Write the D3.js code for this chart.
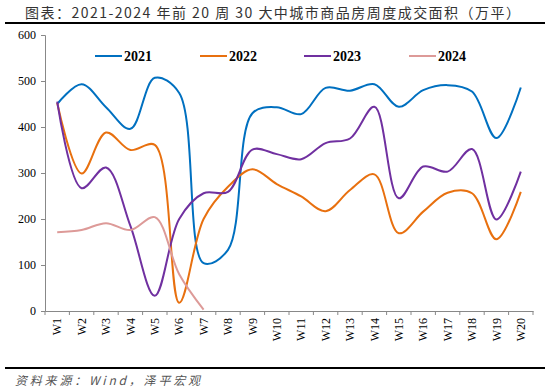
<!DOCTYPE html>
<html><head><meta charset="utf-8">
<script src="https://cdn.jsdelivr.net/npm/d3@7"></script>
<style>body{margin:0;background:#fff}svg{display:block}</style>
</head><body>
<script>
const weeks = ["W1","W2","W3","W4","W5","W6","W7","W8","W9","W10","W11","W12","W13","W14","W15","W16","W17","W18","W19","W20"];
const v2021 = [450,493,443,396,507,474,104,133,430,443,428,485,479,493,444,480,491,477,376,486];
const v2022 = [452,299,388,350,361,18,200,270,308,276,249,217,263,297,169,216,257,256,156,259];
const v2023 = [455,267,312,185,33,200,256,259,351,341,330,365,375,444,245,314,303,352,199,303];
const v2024 = [171,176,191,176,204,80,3];
const seriesNames = ["2021","2022","2023","2024"];
const yTicks = [0,100,200,300,400,500,600];
const colors = ["#0070C0","#E8700F","#7030A0","#DD9A98"];
const allSeries = [v2021,v2022,v2023,v2024];

const W=550,H=391;
const svg=d3.select("body").append("svg").attr("width",W).attr("height",H);
const x=d3.scaleBand().domain(weeks).range([45,533]);
const y=d3.scaleLinear().domain([0,600]).range([311,35]);

svg.append("text").attr("x",25).attr("y",18).attr("font-family","'Noto Sans CJK SC'").attr("font-size",14).attr("fill","#333")
 .attr("textLength",495).attr("lengthAdjust","spacing")
 .text("图表：2021-2024 年前 20 周 30 大中城市商品房周度成交面积（万平）");
svg.append("line").attr("x1",5).attr("x2",545).attr("y1",23).attr("y2",23).attr("stroke","#000").attr("stroke-width",2);
svg.append("line").attr("x1",5).attr("x2",545).attr("y1",368).attr("y2",368).attr("stroke","#000").attr("stroke-width",2);
svg.append("text").attr("x",15).attr("y",385).attr("font-family","'Noto Sans CJK SC'").attr("font-size",12).attr("font-style","italic").attr("fill","#555")
 .attr("textLength",185).attr("lengthAdjust","spacing")
 .text("资料来源：Wind，泽平宏观");

const yAxis=svg.append("g").attr("transform","translate(45,0)").call(d3.axisLeft(y).tickValues(yTicks).tickSize(4).tickPadding(5));
yAxis.selectAll("text").attr("font-family","'Liberation Serif'").attr("font-size",12).attr("fill","#000");
yAxis.selectAll("line,path").attr("stroke","#888");

const xAxis=svg.append("g").attr("transform","translate(0,311)").call(d3.axisBottom(x).tickSize(0));
xAxis.selectAll("line").remove();
xAxis.select("path").attr("stroke","#888");
const bounds = weeks.map(w=>x(w)).concat([x.range()[1]]);
xAxis.selectAll(".sep").data(bounds).enter().append("line").attr("x1",d=>d).attr("x2",d=>d).attr("y1",0).attr("y2",4).attr("stroke","#888");
xAxis.selectAll("text").attr("font-family","'Liberation Serif'").attr("font-size",12).attr("fill","#000")
 .attr("transform","rotate(-90)").attr("text-anchor","end").attr("dy","0.35em").attr("x",-7).attr("y",0);

const line=d3.line().x((d,i)=>x(weeks[i])+x.bandwidth()/2).y(d=>y(d)).curve(d3.curveCatmullRom.alpha(0.5));
allSeries.forEach((s,k)=>{
  svg.append("path").attr("d",line(s)).attr("fill","none").attr("stroke",colors[k]).attr("stroke-width",2);
});

const legX=[95,200,304,409];
seriesNames.forEach((n,k)=>{
  svg.append("line").attr("x1",legX[k]).attr("x2",legX[k]+27).attr("y1",56).attr("y2",56).attr("stroke",colors[k]).attr("stroke-width",2);
  svg.append("text").attr("x",legX[k]+29).attr("y",61).attr("font-family","'Liberation Serif'").attr("font-weight","bold").attr("font-size",14).attr("fill","#000").text(n);
});
</script>
</body></html>
